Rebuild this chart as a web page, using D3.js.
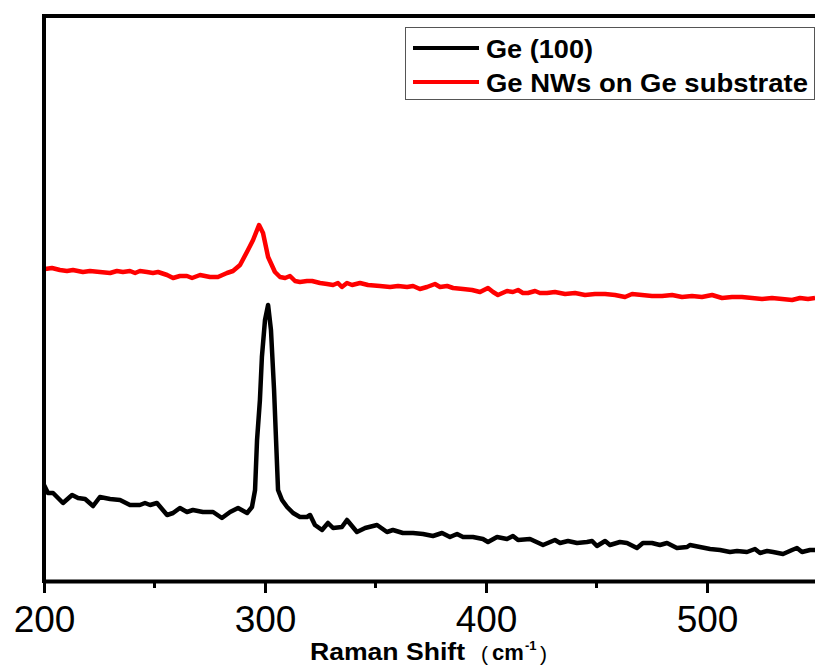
<!DOCTYPE html>
<html>
<head>
<meta charset="utf-8">
<script src="https://cdn.jsdelivr.net/npm/d3@7"></script>
<style>
  body { margin: 0; background: #fff; }
  svg { display: block; }
</style>
</head>
<body>
<script>
'use strict';

var width = 815,
    height = 668;

// Ge (100) wafer spectrum
var geShift = [200, 201.8, 204.1, 208.6, 212.7, 215.4, 218.6, 222.2, 225.3, 229.9, 234.4, 238.9, 243.4, 245.7, 248.0, 251.1,
  255.7, 258.4, 261.5, 264.7, 267.4, 271.9, 276.5, 280.5, 284.2, 287.8, 291.9, 294.1, 295.5, 296.4, 297.7, 298.6, 300.0,
  301.4, 302.7, 304.1, 305.0, 305.9, 307.7, 310.0, 312.7, 315.8, 319.0, 320.4, 322.6, 325.8, 328.5, 330.8, 334.8, 337.1,
  341.6, 345.3, 350.7, 355.2, 357.9, 362.4, 367.0, 371.5, 376.0, 380.1, 383.7, 386.9, 389.6, 394.1, 398.6, 400.9, 405.0,
  409.5, 412.2, 414.5, 419.9, 425.8, 431.2, 433.5, 437.1, 441.2, 445.7, 448.0, 450.2, 453.9, 456.1, 460.6, 463.8, 468.3,
  471.0, 475.1, 478.7, 481.9, 486.4, 491.0, 492.3, 496.8, 501.4, 505.9, 510.4, 513.6, 518.1, 521.7, 524.0, 527.2, 529.9,
  534.4, 538.5, 540.7, 543.0, 546.6, 548.9];
var geIntensity = [96, 88, 88, 78, 86, 83, 82, 75, 84, 82, 81, 76, 76, 78, 76, 78,
  66, 68, 73, 69, 71, 69, 69, 63, 69, 73, 68, 74, 91, 141, 181, 224, 261,
  276, 251, 191, 141, 91, 81, 74, 68, 64, 64, 66, 56, 51, 58, 53, 54, 61,
  49, 53, 56, 49, 51, 48, 48, 47, 45, 48, 44, 47, 44, 44, 42, 39, 44,
  42, 45, 41, 42, 36, 41, 38, 40, 38, 39, 40, 35, 40, 36, 39, 38, 33,
  38, 38, 36, 38, 33, 34, 36, 34, 32, 31, 29, 30, 29, 32, 28, 30, 29,
  27, 31, 33, 29, 31, 31];

// Ge nanowires on Ge substrate spectrum
var nwShift = [200.5, 203.6, 207.2, 210.4, 213.1, 217.6, 220.8, 225.3, 229.9, 233.0, 235.7, 238.9, 241.2, 243.4, 246.6,
  249.3, 251.6, 255.7, 258.4, 261.5, 264.7, 267.0, 270.6, 275.1, 278.7, 282.8, 285.5, 288.7, 292.3, 294.6, 296.4, 297.3,
  299.1, 301.4, 304.5, 306.8, 309.1, 311.3, 313.6, 315.8, 319.0, 321.3, 324.9, 328.1, 330.8, 333.0, 334.8, 337.1, 339.4,
  343.0, 346.6, 352.0, 356.6, 360.2, 364.3, 367.0, 370.1, 373.3, 376.9, 379.2, 382.4, 385.1, 389.6, 393.7, 397.3, 400.9,
  403.2, 405.4, 409.5, 412.2, 414.5, 416.7, 419.0, 422.2, 424.4, 427.6, 431.2, 435.8, 440.3, 444.8, 449.3, 453.9, 458.4,
  462.9, 466.1, 470.6, 475.1, 479.7, 484.2, 488.7, 493.2, 497.7, 502.3, 506.8, 511.3, 515.8, 520.4, 524.9, 529.4, 534.0,
  538.5, 542.1, 545.7, 548.9];
var nwIntensity = [312, 313, 311, 310, 311, 309, 310, 309, 308, 310, 309, 310, 308, 310, 309,
  308, 309, 306, 303, 305, 305, 303, 306, 304, 304, 308, 310, 316, 331, 341, 351, 356,
  348, 324, 309, 304, 303, 305, 300, 299, 300, 300, 298, 297, 296, 298, 294, 298, 296,
  298, 296, 295, 294, 295, 294, 295, 292, 294, 297, 294, 295, 293, 292, 291, 289, 293,
  289, 286, 290, 289, 291, 288, 288, 290, 288, 288, 289, 287, 288, 286, 287, 287, 286,
  284, 287, 286, 285, 285, 286, 284, 285, 284, 286, 283, 284, 284, 283, 282, 283, 282,
  281, 283, 282, 283];

var xTicks = [200, 300, 400, 500];
var xMinorTicks = [250, 350, 450];
var seriesNames = ["Ge (100)", "Ge NWs on Ge substrate"];
var seriesColors = ["#000000", "#ff0000"];

var svg = d3.select("body").append("svg")
    .attr("width", width)
    .attr("height", height);

var x = d3.scaleLinear().domain([200, 550]).range([44, 817.5]);
var y = d3.scaleLinear().domain([0, 565]).range([581, 16]);

var line = d3.line()
    .x(function(d) { return x(d[0]); })
    .y(function(d) { return y(d[1]); });

var series = [
  d3.zip(geShift, geIntensity),
  d3.zip(nwShift, nwIntensity)
];

svg.append("g")
    .selectAll("path")
    .data(series)
    .enter().append("path")
    .attr("d", line)
    .attr("fill", "none")
    .attr("stroke", function(d, i) { return seriesColors[i]; })
    .attr("stroke-width", 4.5)
    .attr("stroke-linejoin", "round");

// frame: left and top borders
svg.append("path")
    .attr("d", "M" + x(200) + "," + y(0) + "V" + y(565) + "H" + x(550))
    .attr("fill", "none")
    .attr("stroke", "#000")
    .attr("stroke-width", 4)
    .attr("stroke-linecap", "square");

// bottom axis
var xAxis = svg.append("g")
    .attr("transform", "translate(0," + y(0) + ")")
    .call(d3.axisBottom(x).tickValues(xTicks).tickSize(12).tickSizeOuter(0).tickPadding(8));

xAxis.select(".domain").attr("stroke-width", 4);
xAxis.selectAll(".tick line").attr("stroke-width", 3);
xAxis.selectAll(".tick text")
    .attr("font-family", "Liberation Sans, Arial, sans-serif")
    .attr("font-size", 37)
    .attr("fill", "#000")
    .attr("dy", 0)
    .attr("y", 51);

svg.append("g")
    .attr("transform", "translate(0," + y(0) + ")")
    .selectAll("line")
    .data(xMinorTicks)
    .enter().append("line")
    .attr("x1", function(d) { return x(d); })
    .attr("x2", function(d) { return x(d); })
    .attr("y1", 0)
    .attr("y2", 7)
    .attr("stroke", "#000")
    .attr("stroke-width", 3);

// axis title
var title = svg.append("g")
    .attr("font-family", "Liberation Sans, Arial, sans-serif")
    .attr("fill", "#000");
title.append("text")
    .attr("x", 310).attr("y", 660)
    .attr("font-size", 23).attr("font-weight", "bold")
    .attr("textLength", 155).attr("lengthAdjust", "spacingAndGlyphs")
    .text("Raman Shift");
title.append("text")
    .attr("x", 481).attr("y", 661)
    .attr("font-size", 21)
    .text("(");
title.append("text")
    .attr("x", 492).attr("y", 660)
    .attr("font-size", 22).attr("font-weight", "bold")
    .text("cm");
title.append("text")
    .attr("x", 525).attr("y", 650)
    .attr("font-size", 13).attr("font-weight", "bold")
    .text("-1");
title.append("text")
    .attr("x", 540).attr("y", 661)
    .attr("font-size", 21)
    .text(")");

// legend
var legend = svg.append("g");
legend.append("rect")
    .attr("x", 405.5).attr("y", 27.5)
    .attr("width", 409).attr("height", 72)
    .attr("fill", "#fff")
    .attr("stroke", "#555")
    .attr("stroke-width", 1);

var legendRows = [48, 82];
var legendTextLen = [107, 322];
legend.selectAll("line")
    .data(seriesNames)
    .enter().append("line")
    .attr("x1", 413).attr("x2", 479)
    .attr("y1", function(d, i) { return legendRows[i]; })
    .attr("y2", function(d, i) { return legendRows[i]; })
    .attr("stroke", function(d, i) { return seriesColors[i]; })
    .attr("stroke-width", 4);

legend.selectAll("text")
    .data(seriesNames)
    .enter().append("text")
    .attr("x", 486)
    .attr("y", function(d, i) { return legendRows[i] + 9.5; })
    .attr("font-family", "Liberation Sans, Arial, sans-serif")
    .attr("font-weight", "bold")
    .attr("font-size", 25)
    .attr("textLength", function(d, i) { return legendTextLen[i]; })
    .attr("lengthAdjust", "spacingAndGlyphs")
    .text(function(d) { return d; });
</script>
</body>
</html>
